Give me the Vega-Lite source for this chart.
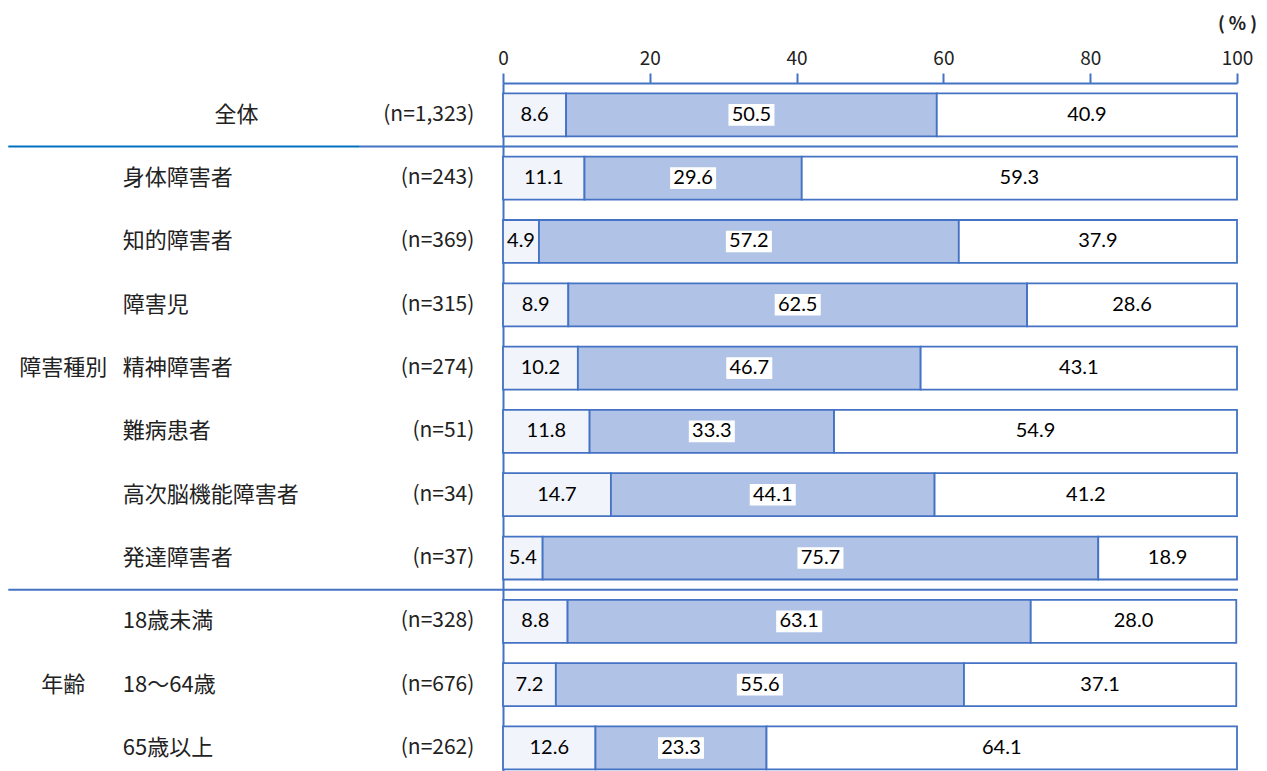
{
  "$schema": "https://vega.github.io/schema/vega-lite/v6.json",
  "width": 734,
  "height": 688,
  "autosize": {"type": "none"},
  "padding": {"left": 503, "top": 83, "right": 30, "bottom": 0},
  "background": "white",
  "config": {"view": {"stroke": null}, "font": "Noto Sans CJK JP"},
  "datasets": {
    "vals": [
      {"cat": "全体", "s": "1", "v": 8.6}, {"cat": "全体", "s": "2", "v": 50.5}, {"cat": "全体", "s": "3", "v": 40.9},
      {"cat": "身体障害者", "s": "1", "v": 11.1}, {"cat": "身体障害者", "s": "2", "v": 29.6}, {"cat": "身体障害者", "s": "3", "v": 59.3},
      {"cat": "知的障害者", "s": "1", "v": 4.9}, {"cat": "知的障害者", "s": "2", "v": 57.2}, {"cat": "知的障害者", "s": "3", "v": 37.9},
      {"cat": "障害児", "s": "1", "v": 8.9}, {"cat": "障害児", "s": "2", "v": 62.5}, {"cat": "障害児", "s": "3", "v": 28.6},
      {"cat": "精神障害者", "s": "1", "v": 10.2}, {"cat": "精神障害者", "s": "2", "v": 46.7}, {"cat": "精神障害者", "s": "3", "v": 43.1},
      {"cat": "難病患者", "s": "1", "v": 11.8}, {"cat": "難病患者", "s": "2", "v": 33.3}, {"cat": "難病患者", "s": "3", "v": 54.9},
      {"cat": "高次脳機能障害者", "s": "1", "v": 14.7}, {"cat": "高次脳機能障害者", "s": "2", "v": 44.1}, {"cat": "高次脳機能障害者", "s": "3", "v": 41.2},
      {"cat": "発達障害者", "s": "1", "v": 5.4}, {"cat": "発達障害者", "s": "2", "v": 75.7}, {"cat": "発達障害者", "s": "3", "v": 18.9},
      {"cat": "18歳未満", "s": "1", "v": 8.8}, {"cat": "18歳未満", "s": "2", "v": 63.1}, {"cat": "18歳未満", "s": "3", "v": 28.0},
      {"cat": "18～64歳", "s": "1", "v": 7.2}, {"cat": "18～64歳", "s": "2", "v": 55.6}, {"cat": "18～64歳", "s": "3", "v": 37.1},
      {"cat": "65歳以上", "s": "1", "v": 12.6}, {"cat": "65歳以上", "s": "2", "v": 23.3}, {"cat": "65歳以上", "s": "3", "v": 64.1}
    ],
    "cats": [
      {"cat": "全体", "n": "(n=1,323)", "grp": ""},
      {"cat": "身体障害者", "n": "(n=243)", "grp": ""},
      {"cat": "知的障害者", "n": "(n=369)", "grp": ""},
      {"cat": "障害児", "n": "(n=315)", "grp": ""},
      {"cat": "精神障害者", "n": "(n=274)", "grp": "障害種別"},
      {"cat": "難病患者", "n": "(n=51)", "grp": ""},
      {"cat": "高次脳機能障害者", "n": "(n=34)", "grp": ""},
      {"cat": "発達障害者", "n": "(n=37)", "grp": ""},
      {"cat": "18歳未満", "n": "(n=328)", "grp": ""},
      {"cat": "18～64歳", "n": "(n=676)", "grp": "年齢"},
      {"cat": "65歳以上", "n": "(n=262)", "grp": ""}
    ]
  },
  "layer": [
    {
      "data": {"name": "vals"},
      "mark": {"type": "bar", "stroke": "#4472C4", "strokeWidth": 1.8},
      "encoding": {
        "y": {
          "field": "cat", "type": "nominal", "sort": null,
          "scale": {
            "domain": ["全体", "身体障害者", "知的障害者", "障害児", "精神障害者", "難病患者", "高次脳機能障害者", "発達障害者", "18歳未満", "18～64歳", "65歳以上"],
            "paddingInner": 0.321, "paddingOuter": 0.094, "align": 0.87
          },
          "axis": {"orient": "left", "domainColor": "#4472C4", "domainWidth": 2, "ticks": false, "labels": false, "title": null, "grid": false}
        },
        "x": {
          "field": "v", "type": "quantitative", "stack": "zero",
          "scale": {"domain": [0, 100], "nice": false},
          "axis": {
            "orient": "top", "values": [0, 20, 40, 60, 80, 100], "grid": false,
            "domainColor": "#4472C4", "domainWidth": 2, "tickColor": "#4472C4", "tickWidth": 2, "tickSize": 10,
            "labelFont": "Noto Sans CJK JP", "labelFontSize": 19, "labelColor": "#222222", "labelPadding": 5, "labelFlush": false,
            "title": "( % )", "titleFont": "Noto Sans CJK JP", "titleFontSize": 18, "titleFontWeight": "bold", "titleColor": "#222222",
            "titleX": 734, "titleY": -59, "titleAlign": "center", "titleBaseline": "middle", "titleAngle": 0
          }
        },
        "fill": {"field": "s", "type": "nominal", "scale": {"domain": ["1", "2", "3"], "range": ["#F1F4FB", "#B0C3E7", "#FFFFFF"]}, "legend": null},
        "order": {"field": "s"}
      }
    },
    {
      "data": {"name": "vals"},
      "mark": {"type": "point", "shape": "M-1,-0.47H1V0.47H-1Z", "size": 2116, "filled": true, "strokeWidth": 0, "color": "white"},
      "encoding": {
        "y": {"field": "cat", "type": "nominal"},
        "x": {"field": "v", "type": "quantitative", "stack": "zero", "bandPosition": 0.5},
        "detail": {"field": "s"},
        "order": {"field": "s"},
        "opacity": {"condition": {"test": "datum.s === '2'", "value": 1}, "value": 0}
      }
    },
    {
      "data": {"name": "vals"},
      "mark": {"type": "text", "font": "Lato", "fontSize": 20, "color": "#000000", "baseline": "middle"},
      "encoding": {
        "y": {"field": "cat", "type": "nominal"},
        "x": {"field": "v", "type": "quantitative", "stack": "zero", "bandPosition": 0.5},
        "detail": {"field": "s"},
        "order": {"field": "s"},
        "text": {"field": "v", "type": "quantitative", "format": ".1f"}
      }
    },
    {
      "data": {"name": "cats"},
      "transform": [{"filter": "datum.cat !== '全体'"}],
      "mark": {"type": "text", "align": "left", "baseline": "middle", "fontSize": 22, "color": "#222222"},
      "encoding": {
        "y": {"field": "cat", "type": "nominal"},
        "x": {"datum": -51.8, "type": "quantitative"},
        "text": {"field": "cat"}
      }
    },
    {
      "data": {"name": "cats"},
      "transform": [{"filter": "datum.cat === '全体'"}],
      "mark": {"type": "text", "align": "center", "baseline": "middle", "fontSize": 22, "color": "#222222"},
      "encoding": {
        "y": {"field": "cat", "type": "nominal"},
        "x": {"datum": -36.3, "type": "quantitative"},
        "text": {"field": "cat"}
      }
    },
    {
      "data": {"name": "cats"},
      "mark": {"type": "text", "align": "right", "baseline": "middle", "fontSize": 21, "color": "#222222"},
      "encoding": {
        "y": {"field": "cat", "type": "nominal"},
        "x": {"datum": -3.9, "type": "quantitative"},
        "text": {"field": "n"}
      }
    },
    {
      "data": {"name": "cats"},
      "transform": [{"filter": "datum.grp !== ''"}],
      "mark": {"type": "text", "align": "center", "baseline": "middle", "fontSize": 22, "color": "#222222"},
      "encoding": {
        "y": {"field": "cat", "type": "nominal"},
        "x": {"datum": -59.9, "type": "quantitative"},
        "text": {"field": "grp"}
      }
    },
    {
      "data": {"name": "cats"},
      "transform": [{"filter": "datum.cat === '全体'"}],
      "mark": {"type": "rule", "color": "#0070C0", "strokeWidth": 2},
      "encoding": {
        "y": {"field": "cat", "type": "nominal", "bandPosition": 1.236},
        "x": {"datum": -67.4, "type": "quantitative"},
        "x2": {"datum": -19.5}
      }
    },
    {
      "data": {"name": "cats"},
      "transform": [{"filter": "datum.cat === '全体'"}],
      "mark": {"type": "rule", "color": "#4472C4", "strokeWidth": 2},
      "encoding": {
        "y": {"field": "cat", "type": "nominal", "bandPosition": 1.236},
        "x": {"datum": -19.5, "type": "quantitative"},
        "x2": {"datum": 100.14}
      }
    },
    {
      "data": {"name": "cats"},
      "transform": [{"filter": "datum.cat === '発達障害者'"}],
      "mark": {"type": "rule", "color": "#4472C4", "strokeWidth": 2},
      "encoding": {
        "y": {"field": "cat", "type": "nominal", "bandPosition": 1.236},
        "x": {"datum": -67.4, "type": "quantitative"},
        "x2": {"datum": 100.14}
      }
    }
  ]
}
